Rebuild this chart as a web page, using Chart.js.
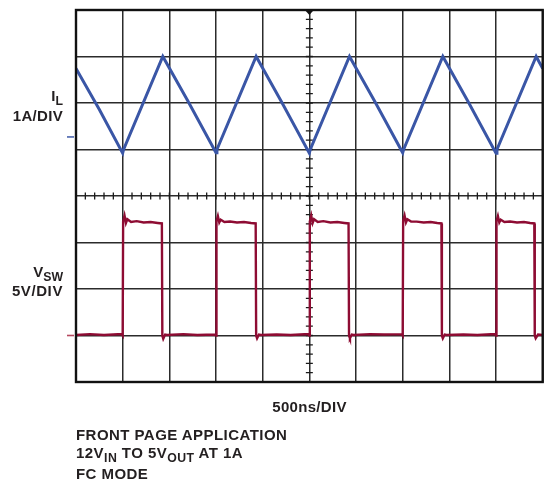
<!DOCTYPE html>
<html>
<head>
<meta charset="utf-8">
<script src="https://cdn.jsdelivr.net/npm/chart.js@4.4.0/dist/chart.umd.min.js"></script>
<style>
  html, body { margin: 0; padding: 0; background: #fff; }
  #wrap { position: relative; width: 545px; height: 485px; overflow: hidden; }
  canvas { position: absolute; left: 0; top: 0; }
  .t { position: absolute; font-family: "Liberation Sans", Arial, Helvetica, sans-serif; font-weight: bold; color: #231f20; line-height: 1; white-space: nowrap; }
  .r { text-align: right; }
  .w { letter-spacing: 0.45px; }
  sub { font-size: 0.82em; vertical-align: baseline; position: relative; top: 0.3em; }
</style>
</head>
<body>
<div id="wrap">
  <canvas id="c" width="545" height="485"></canvas>
  <div class="t r" style="font-size:15px; right:482px; top:88.3px;">I<sub>L</sub></div>
  <div class="t r" style="font-size:15px; right:482px; top:108.3px; letter-spacing:0.3px;">1A/DIV</div>
  <div class="t r" style="font-size:15px; right:482px; top:264px;">V<sub>SW</sub></div>
  <div class="t r" style="font-size:15px; right:482px; top:283px; letter-spacing:0.6px;">5V/DIV</div>
  <div class="t" style="font-size:15px; left:309.5px; top:399.3px; transform:translateX(-50%); letter-spacing:0.3px;">500ns/DIV</div>
  <div class="t w" style="font-size:15px; left:76px; top:426.6px;">FRONT PAGE APPLICATION</div>
  <div class="t w" style="font-size:15px; left:76px; top:445.3px;">12V<sub>IN</sub> TO 5V<sub>OUT</sub> AT 1A</div>
  <div class="t w" style="font-size:15px; left:76px; top:466.3px;">FC MODE</div>
</div>
<script>
// Time axis: 10 divisions (500ns/DIV); vertical: 8 divisions
const xDivisions = [0, 10];
const yDivisions = [0, 8];

// Inductor current trace (division units)
const ilX = [0, 0.5, 1.0, 1.02, 1.86, 2.4, 3.0, 3.02, 3.86, 4.4, 5.0, 5.02, 5.86, 6.4, 7.0, 7.02, 7.86, 8.4, 9.0, 9.02, 9.86, 10];
const ilY = [6.74, 5.86, 4.92, 5.0, 7.0, 6.04, 4.93, 5.0, 7.0, 6.03, 4.92, 5.0, 7.0, 6.04, 4.93, 5.0, 7.0, 6.03, 4.92, 5.0, 7.0, 6.74];

// Switch node voltage trace (division units)
const vswX = [0, 0.3, 0.6, 0.98, 1.0, 1.01, 1.04, 1.07, 1.1, 1.18, 1.3, 1.45, 1.6, 1.75, 1.84, 1.85, 1.87, 1.91, 1.95, 2.3, 2.6, 2.98,
              3.0, 3.01, 3.04, 3.07, 3.1, 3.18, 3.3, 3.45, 3.6, 3.75, 3.85, 3.86, 3.88, 3.92, 3.96, 4.3, 4.6, 4.98,
              5.0, 5.01, 5.04, 5.07, 5.1, 5.18, 5.3, 5.45, 5.6, 5.75, 5.84, 5.85, 5.87, 5.91, 5.95, 6.3, 6.6, 6.98,
              7.0, 7.01, 7.04, 7.07, 7.1, 7.18, 7.3, 7.45, 7.6, 7.74, 7.83, 7.84, 7.86, 7.9, 7.94, 8.3, 8.6, 8.98,
              9.0, 9.01, 9.04, 9.07, 9.1, 9.18, 9.3, 9.45, 9.6, 9.73, 9.82, 9.83, 9.85, 9.9, 10];
const vswY = [1.01, 1.03, 1.01, 1.03, 1.0, 3.45, 3.58, 3.42, 3.5, 3.44, 3.46, 3.43, 3.44, 3.42, 3.41, 1.0, 0.93, 1.02, 1.01, 1.03, 1.01, 1.02,
              1.0, 3.46, 3.57, 3.43, 3.49, 3.44, 3.45, 3.43, 3.44, 3.42, 3.41, 1.0, 0.94, 1.02, 1.01, 1.02, 1.01, 1.03,
              1.0, 3.45, 3.58, 3.42, 3.5, 3.44, 3.46, 3.43, 3.44, 3.42, 3.41, 1.0, 0.94, 1.02, 1.01, 1.03, 1.02, 1.03,
              1.0, 3.47, 3.58, 3.43, 3.5, 3.45, 3.45, 3.43, 3.44, 3.42, 3.41, 1.0, 0.94, 1.02, 1.01, 1.02, 1.01, 1.03,
              1.0, 3.46, 3.57, 3.43, 3.49, 3.44, 3.45, 3.43, 3.44, 3.42, 3.41, 1.0, 0.94, 1.02, 1.01];

// Ground reference markers (division units)
const groundLevels = [5.27, 1.0];
const groundColors = ['#4a64ad', '#b5495f'];

const toPts = (xs, ys) => xs.map((x, i) => ({ x, y: ys[i] }));

const scopePlugin = {
  id: 'scope',
  beforeDatasetsDraw(chart) {
    const { ctx, scales: { x, y } } = chart;
    ctx.save();
    // minor ticks on center axes
    ctx.strokeStyle = '#1a1a1a';
    ctx.lineWidth = 1.3;
    const cx = x.getPixelForValue(5), cy = y.getPixelForValue(4);
    ctx.beginPath();
    for (let v = 0; v <= 10.001; v += 0.2) {
      const px = x.getPixelForValue(v);
      ctx.moveTo(px, cy - 3.5); ctx.lineTo(px, cy + 3.5);
    }
    for (let v = 0; v <= 8.001; v += 0.2) {
      const py = y.getPixelForValue(v);
      ctx.moveTo(cx - 3.5, py); ctx.lineTo(cx + 3.5, py);
    }
    ctx.stroke();
    ctx.restore();
  },
  afterDatasetsDraw(chart) {
    const { ctx, chartArea: a, scales: { x, y } } = chart;
    ctx.save();
    // outer frame
    ctx.strokeStyle = '#111';
    ctx.lineWidth = 2.4;
    ctx.strokeRect(a.left, a.top, a.right - a.left, a.bottom - a.top);
    // trigger marker at top center
    const cx = x.getPixelForValue(5);
    ctx.fillStyle = '#111';
    ctx.beginPath();
    ctx.moveTo(cx - 4.5, a.top); ctx.lineTo(cx + 4.5, a.top); ctx.lineTo(cx, a.top + 5);
    ctx.closePath(); ctx.fill();
    // ground markers
    ctx.lineWidth = 1.6;
    groundLevels.forEach((g, i) => {
      const py = y.getPixelForValue(g);
      ctx.strokeStyle = groundColors[i];
      ctx.beginPath(); ctx.moveTo(a.left - 9, py); ctx.lineTo(a.left - 2, py); ctx.stroke();
    });
    ctx.restore();
  }
};

new Chart(document.getElementById('c'), {
  type: 'scatter',
  data: {
    datasets: [
      { label: 'IL', data: toPts(ilX, ilY), showLine: true, borderColor: '#3a56a6', borderWidth: 3, pointRadius: 0, tension: 0, order: 1 },
      { label: 'VSW', data: toPts(vswX, vswY), showLine: true, borderColor: '#8e0c33', borderWidth: 2.4, pointRadius: 0, tension: 0, order: 2 }
    ]
  },
  options: {
    responsive: false,
    animation: false,
    events: [],
    layout: { padding: { left: 76, top: 10, right: 2.3, bottom: 103 } },
    plugins: { legend: { display: false }, tooltip: { enabled: false } },
    scales: {
      x: {
        type: 'linear', min: xDivisions[0], max: xDivisions[1],
        ticks: { display: false, stepSize: 1 },
        grid: { color: '#2b2b2b', lineWidth: 1.5, drawTicks: false },
        border: { display: false }
      },
      y: {
        type: 'linear', min: yDivisions[0], max: yDivisions[1],
        ticks: { display: false, stepSize: 1 },
        grid: { color: '#2b2b2b', lineWidth: 1.5, drawTicks: false },
        border: { display: false }
      }
    }
  },
  plugins: [scopePlugin]
});
</script>
</body>
</html>
